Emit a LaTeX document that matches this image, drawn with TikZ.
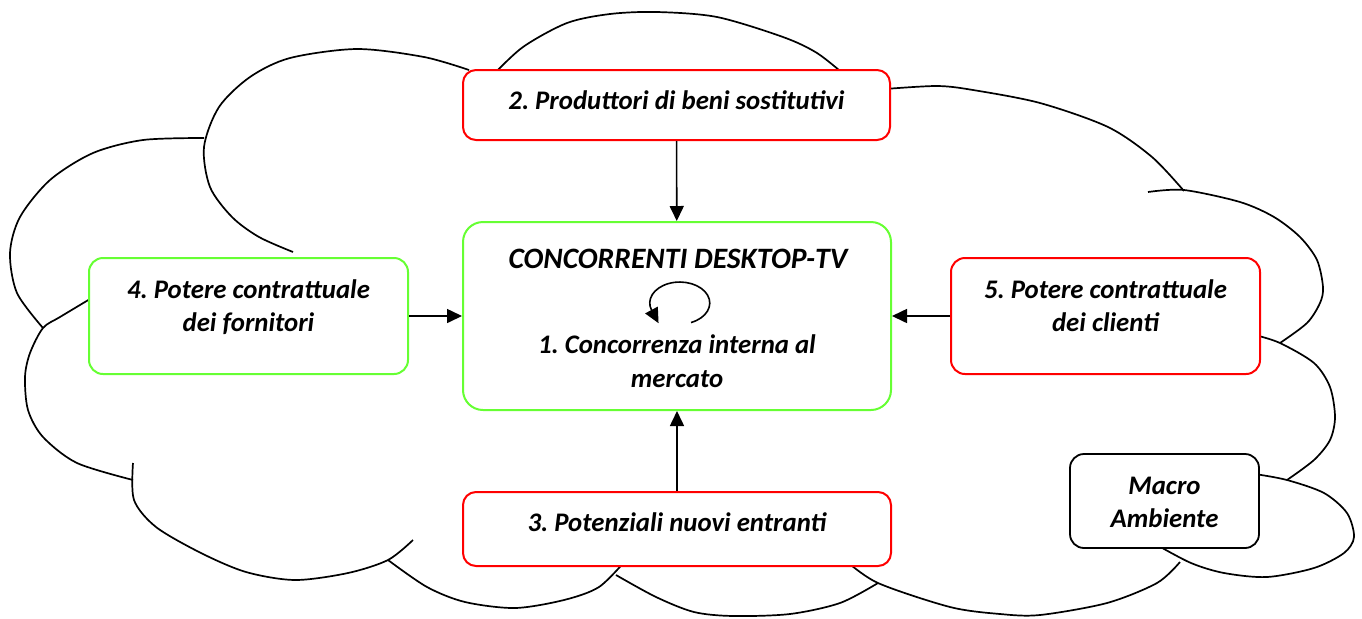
\documentclass[tikz,border=0pt]{standalone}
\usepackage{fontspec}
\setmainfont{Carlito}
\usetikzlibrary{arrows.meta}
\definecolor{boxred}{RGB}{255,0,0}
\definecolor{boxgreen}{RGB}{102,255,51}
\begin{document}
\frenchspacing
\begin{tikzpicture}
[x=0.5pt,y=-0.5pt,
  boxdecorate/.style={shape=rectangle,rounded corners=7pt,draw,line width=1pt,fill=white,inner sep=0pt},
  textdecorate/.style={font=\fontsize{13.4}{16.5}\selectfont\bfseries\itshape,align=center,anchor=base,inner sep=0pt},
  linedecorate/.style={-{Triangle[length=7.5pt,width=7pt]},line width=0.8pt},
  clouddecorate/.style={line width=0.85pt}]
\useasboundingbox (0,0) rectangle (1362,618);
% cloud of the macro environment
\draw[clouddecorate] plot[smooth] coordinates {(293,252) (259,237) (232,217) (210,187) (204,147) (219,107) (250,77) (290,58) (357,49) (424,57) (469,70)};
\draw[clouddecorate] plot[smooth] coordinates {(204,138) (143,140) (93,153) (50,180) (20,217) (10,253) (17,293) (43,328)};
\draw[clouddecorate] plot[smooth] coordinates {(90,299) (60,317) (43,328) (30,353) (25,377) (28,410) (43,437) (77,463) (133,480)};
\draw[clouddecorate] plot[smooth] coordinates {(133,463) (134,500) (156,527) (201,553) (246,572) (295,580) (348,573) (388,560) (413,540)};
\draw[clouddecorate] plot[smooth] coordinates {(388,560) (427,587) (465,602) (515,608) (564,600) (599,587) (626,560)};
\draw[clouddecorate] plot[smooth] coordinates {(616,575) (656,597) (694,612) (733,616) (790,614) (840,603) (878,583)};
\draw[clouddecorate] plot[smooth] coordinates {(845,560) (878,583) (950,607) (1000,614) (1040,615) (1107,603) (1157,583) (1180,562)};
\draw[clouddecorate] plot[smooth] coordinates {(1157,545) (1191,563) (1224,573) (1267,577) (1314,568) (1344,553) (1354,537) (1347,513) (1324,493) (1287,480) (1255,474)};
\draw[clouddecorate] plot[smooth] coordinates {(1287,480) (1314,460) (1330,440) (1335,417) (1330,387) (1314,363) (1280,343) (1255,335)};
\draw[clouddecorate] plot[smooth] coordinates {(1280,343) (1307,323) (1320,303) (1323,287) (1317,260) (1300,237) (1274,217) (1240,202) (1184,190) (1148,192)};
\draw[clouddecorate] plot[smooth] coordinates {(1184,191) (1152,157) (1108,127) (1040,103) (973,90) (937,86) (885,89)};
\draw[clouddecorate] plot[smooth] coordinates {(492,76) (523,47) (567,23) (610,14) (657,12) (717,17) (783,37) (817,53) (846,76)};
% nodes or vertices
\node (p) at (676.5,105) [boxdecorate,draw=boxred,minimum width=213.5pt,minimum height=35pt,rounded corners=6.5pt] {};
\node [textdecorate] at (676.5,109) {2. Produttori di beni sostitutivi};
\node (c) at (677,316) [boxdecorate,draw=boxgreen,minimum width=214pt,minimum height=94pt,rounded corners=10pt] {};
\node [textdecorate,font=\fontsize{14.8}{17}\selectfont\bfseries\itshape] at (678,268) {CONCORRENTI DESKTOP-TV};
\node [textdecorate,font=\fontsize{13.4}{17}\selectfont\bfseries\itshape] at (677,387) {1. Concorrenza interna al\\mercato};
\node (f) at (248.5,316) [boxdecorate,draw=boxgreen,minimum width=159.5pt,minimum height=58pt] {};
\node [textdecorate] at (248.5,331) {4. Potere contrattuale\\dei fornitori};
\node (k) at (1105.5,316) [boxdecorate,draw=boxred,minimum width=154.5pt,minimum height=58pt] {};
\node [textdecorate] at (1105.5,331) {5. Potere contrattuale\\dei clienti};
\node (n) at (677,529) [boxdecorate,draw=boxred,minimum width=214pt,minimum height=37pt,rounded corners=6.5pt] {};
\node [textdecorate] at (677,531) {3. Potenziali nuovi entranti};
\node (m) at (1164.5,501) [boxdecorate,draw=black,minimum width=94.5pt,minimum height=47pt,line width=0.9pt] {};
\node [textdecorate] at (1164.5,527) {Macro\\Ambiente};
% edges or lines
\path
(p) edge[linedecorate] (c)
(f) edge[linedecorate] (c)
(k) edge[linedecorate] (c)
(n) edge[linedecorate] (c);
% internal rivalry loop
\draw[linedecorate] (691,322.5) arc[start angle=-68,end angle=200,x radius=15pt,y radius=10.5pt] -- ++(7,13);
\end{tikzpicture}
\end{document}
